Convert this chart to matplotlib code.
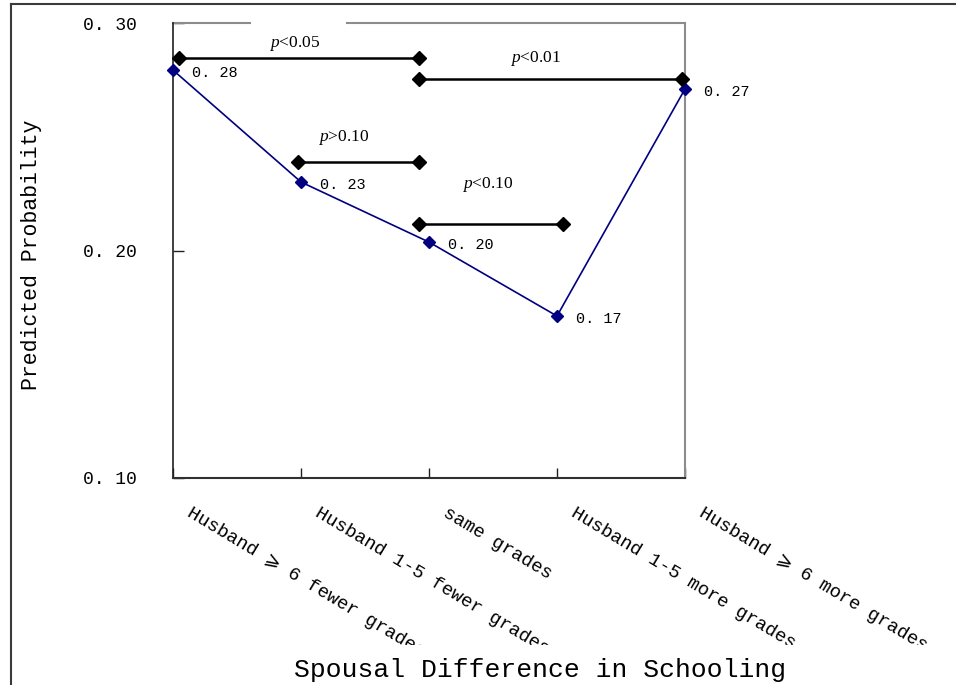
import matplotlib
matplotlib.use("Agg")
import matplotlib.pyplot as plt
from matplotlib.lines import Line2D
from matplotlib.ticker import FuncFormatter
from matplotlib.transforms import Bbox, TransformedBbox, ScaledTranslation

plt.rcParams['mathtext.fontset'] = 'custom'
plt.rcParams['mathtext.rm'] = 'Liberation Serif'
plt.rcParams['mathtext.it'] = 'Liberation Serif:italic'

MONO = ['Liberation Mono', 'DejaVu Sans Mono', 'DejaVu Sans']

# data
categories = ["Husband \u2a7e 6 fewer grades", "Husband 1-5 fewer grades", "same grades",
              "Husband 1-5 more grades", "Husband \u2a7e 6 more grades"]
probability = [0.2793, 0.2301, 0.2037, 0.1712, 0.2710]

# significance brackets: (start, end, height, label, label x, label y)
bracket_start = [0.05, 1.92, 0.98, 1.92]
bracket_end = [1.92, 3.98, 1.92, 3.05]
bracket_y = [0.2845, 0.2754, 0.2389, 0.2116]
bracket_text = ["$p$<0.05", "$p$<0.01", "$p$>0.10", "$p$<0.10"]
bracket_text_x = [0.95, 2.83, 1.33, 2.46]
bracket_text_y = [0.2912, 0.2842, 0.2495, 0.2288]

fig = plt.figure(figsize=(9.56, 6.85), dpi=100)
ax = fig.add_axes([173 / 956, 1 - 478 / 685, 512 / 956, 455 / 685])

x = list(range(len(categories)))
ax.plot(x, probability, color='#000080', lw=1.2, marker='D', ms=6,
        mec='#000080', mfc='#000080', zorder=3, clip_on=False)
for xi, v in zip(x, probability):
    ax.annotate(f"{v:.2f}".replace(".", ". "), (xi, v), xytext=(13.5, -2.2),
                textcoords='offset points', ha='left', va='center',
                fontsize=11, family=MONO, annotation_clip=False)

for x0, x1, y, lab, tx, ty in zip(bracket_start, bracket_end, bracket_y,
                                  bracket_text, bracket_text_x, bracket_text_y):
    ax.plot([x0, x1], [y, y], color='black', lw=1.8, marker='D', ms=7,
            zorder=4, clip_on=False)
    ax.text(tx, ty, lab, ha='center', va='center', fontsize=12.5,
            family='Liberation Serif')

ax.set_xlim(0, 4)
ax.set_ylim(0.10, 0.30)
ax.set_yticks([0.10, 0.20, 0.30])
ax.yaxis.set_major_formatter(FuncFormatter(lambda v, p: f"{v:.2f}".replace(".", ". ")))
ax.set_xticks(x)
ax.set_xticklabels([])
ax.tick_params(axis='both', direction='in', width=1, colors='#202020')
ax.tick_params(axis='y', length=8, pad=26, labelsize=13, labelcolor='black')
ax.tick_params(axis='x', length=7)
for t in ax.get_yticklabels():
    t.set_family(MONO)

ax.spines['left'].set_color('#202020')
ax.spines['bottom'].set_color('#303030')
ax.spines['left'].set_linewidth(1.2)
ax.spines['bottom'].set_linewidth(1.5)
ax.spines['right'].set_color('#8c8c8c')
ax.spines['right'].set_linewidth(1.5)
ax.spines['top'].set_visible(False)
for a, b in [(0, 0.15), (0.34, 1)]:
    ax.plot([a, b], [1, 1], transform=ax.transAxes, color='#8c8c8c', lw=1.5, clip_on=False)

# rotated category labels, cut off at the bottom like the original
clip = TransformedBbox(Bbox([[0, 1 - 645 / 685], [1, 1]]), fig.transFigure)
off = ScaledTranslation(14 / 72, -19 / 72, fig.dpi_scale_trans)
for xi, lab in zip(x, categories):
    t = fig.text(xi, 0, lab, transform=ax.get_xaxis_transform() + off,
                 rotation=-31, rotation_mode='anchor', ha='left', va='top',
                 fontsize=13.5, family=MONO)
    t.set_clip_on(True)
    t.set_clip_box(clip)

ax.set_ylabel("Predicted Probability", fontsize=15.5, family=MONO)
ax.yaxis.set_label_coords(-0.256, 0.49)
ax.set_xlabel("Spousal Difference in Schooling", fontsize=19, family=MONO)
ax.xaxis.set_label_coords(0.717, -0.422)
ax.xaxis.label.set_va('center')

# outer frame
fig.add_artist(Line2D([10.5 / 956, 10.5 / 956], [0, 1 - 3.5 / 685],
                      transform=fig.transFigure, color='#3a3a3a', lw=1.5))
fig.add_artist(Line2D([10.5 / 956, 1], [1 - 3.5 / 685, 1 - 3.5 / 685],
                      transform=fig.transFigure, color='#3a3a3a', lw=1.5))

fig.savefig("out.png", dpi=100)
